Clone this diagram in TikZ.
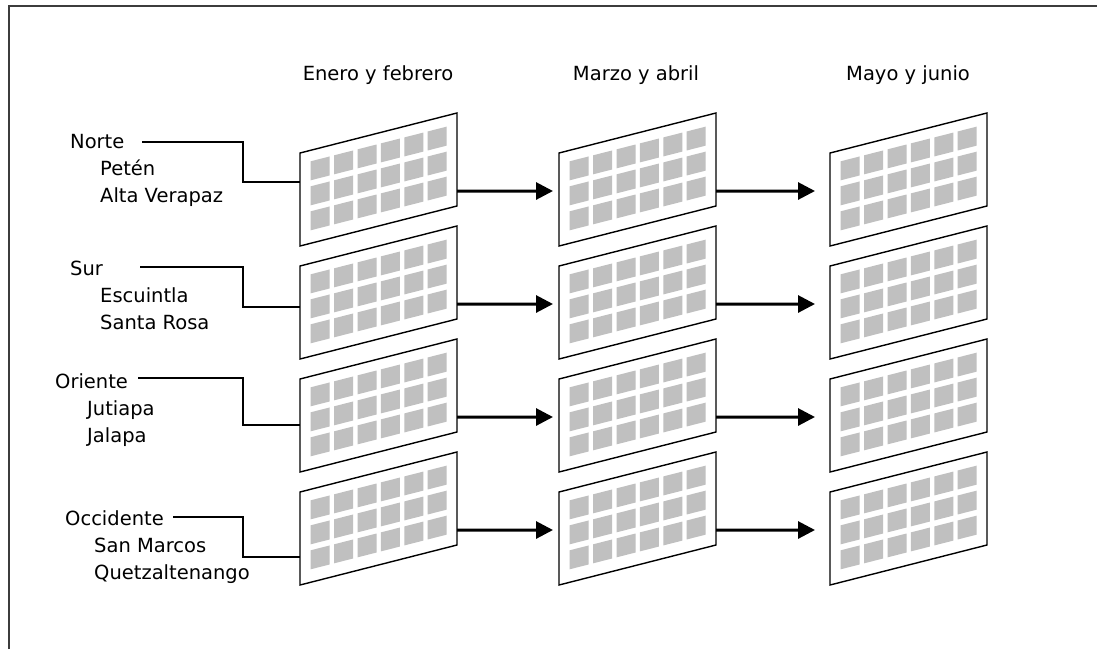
\documentclass[tikz,border=0pt]{standalone}
\usepackage{fontspec}
\setmainfont{DejaVu Sans}
\usetikzlibrary{arrows.meta}
\definecolor{cellgray}{RGB}{192,192,192}
\definecolor{framegray}{RGB}{60,60,60}

\tikzset{
  lbl/.style={anchor=base west, inner sep=0pt, font=\fontsize{19.5}{24}\selectfont},
  hdr/.style={anchor=base, inner sep=0pt, font=\fontsize{19.5}{24}\selectfont},
  lead/.style={line width=1.2pt, black},
  flow/.style={line width=3pt, -{Triangle[length=17pt,width=17pt]}},
  pics/panel/.style={code={
    \begin{scope}[yslant=0.2548]
      \fill[white] (0,0) -- (157,0) -- (157,93) -- (0,93) -- cycle;
      \foreach \c in {0,...,5}{
        \foreach \r in {0,...,2}{
          \pgfmathsetmacro\ua{10.7+23.4*\c}
          \pgfmathsetmacro\ub{\ua+19}
          \pgfmathsetmacro\va{11+25*\r}
          \pgfmathsetmacro\vb{\va+19}
          \fill[cellgray] (\ua,\va) -- (\ub,\va) -- (\ub,\vb) -- (\ua,\vb) -- cycle;
        }
      }
      \draw[line width=1.4pt, line join=miter] (0,0) -- (157,0) -- (157,93) -- (0,93) -- cycle;
      \coordinate (-in) at (0,38);
      \coordinate (-out) at (157,78);
    \end{scope}
  }}
}

\begin{document}
\begin{tikzpicture}[x=1pt, y=-1pt]
  \useasboundingbox (0,0) rectangle (1097,649);
  \fill[white] (0,0) rectangle (1097,649);

  % open frame: left and top edges
  \draw[framegray, line width=2pt] (9,649) -- (9,6) -- (1097,6);

  % column headings
  \node[hdr] (h1) at (378,80) {Enero y febrero};
  \node[hdr] (h2) at (636,80) {Marzo y abril};
  \node[hdr] (h3) at (908,80) {Mayo y junio};

  % panels: rows = regions, columns = periods
  \foreach \r/\y in {1/153, 2/266, 3/379, 4/492}{
    \foreach \c/\x in {1/300, 2/559, 3/830}{
      \pic (p\r\c) at (\x,\y) {panel};
    }
  }

  % flow between periods
  \foreach \r in {1,2,3,4}{
    \draw[flow, shorten >=6pt] (p\r1-out) -- (p\r2-in);
    \draw[flow, shorten >=15pt] (p\r2-out) -- (p\r3-in);
  }

  % region labels
  \node[lbl] (nt)  at (70,148)  {Norte};
  \node[lbl] (nt1) at (100,175) {Petén};
  \node[lbl] (nt2) at (100,202) {Alta Verapaz};

  \node[lbl] (su)  at (70,275)  {Sur};
  \node[lbl] (su1) at (100,302) {Escuintla};
  \node[lbl] (su2) at (100,329) {Santa Rosa};

  \node[lbl] (or)  at (55,388)  {Oriente};
  \node[lbl] (or1) at (87,415)  {Jutiapa};
  \node[lbl] (or2) at (87,442)  {Jalapa};

  \node[lbl] (oc)  at (65,525)  {Occidente};
  \node[lbl] (oc1) at (94,552)  {San Marcos};
  \node[lbl] (oc2) at (94,579)  {Quetzaltenango};

  % leader lines from region labels to the first panel
  \coordinate (bend) at (243,0);
  \coordinate (nts) at (142,142);  \coordinate (nte) at (300,182);
  \coordinate (sus) at (140,267);  \coordinate (sue) at (300,307);
  \coordinate (ors) at (138,378);  \coordinate (ore) at (300,425);
  \coordinate (ocs) at (173,517);  \coordinate (oce) at (300,557);
  \foreach \s in {nt,su,or,oc}{
    \draw[lead] (\s s) -- (\s s -| bend) |- (\s e);
  }
\end{tikzpicture}
\end{document}
